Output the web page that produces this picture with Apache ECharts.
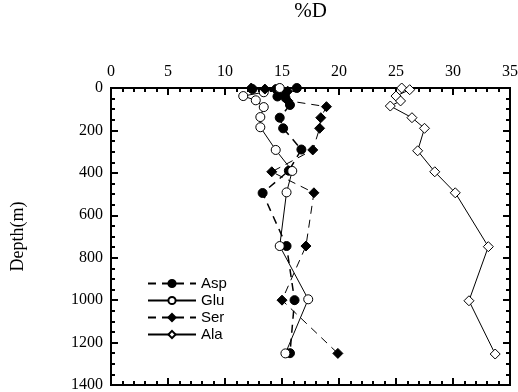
<!DOCTYPE html>
<html>
<head>
<meta charset="utf-8">
<script src="https://cdn.jsdelivr.net/npm/echarts@6/dist/echarts.min.js"></script>
<style>
  html, body { margin: 0; padding: 0; background: #fff; }
  #chart { width: 518px; height: 392px; }
</style>
</head>
<body>
<div id="chart"></div>
<script>
// [%D, depth (m)] pairs, in plotted order
const asp = [[16.3, 0], [12.4, 5], [14.5, 5], [15.0, 20], [14.6, 40], [15.3, 45], [15.7, 80],
  [14.8, 140], [15.1, 190], [16.7, 290], [15.6, 390], [13.3, 495], [15.4, 745], [16.1, 1000], [15.7, 1250]];
const glu = [[14.8, 0], [13.4, 20], [11.6, 38], [12.7, 58], [13.4, 90], [13.1, 137], [13.1, 185],
  [14.45, 292], [15.9, 391], [15.4, 492], [14.8, 745], [17.3, 996], [15.3, 1251]];
const ser = [[12.3, 0], [13.5, 5], [15.5, 15], [15.5, 60], [18.9, 88], [18.4, 140], [18.3, 190],
  [17.7, 292], [14.1, 395], [17.8, 494], [17.1, 745], [15.0, 1000], [19.9, 1251]];
const ala = [[25.5, 0], [26.2, 8], [25.0, 38], [25.4, 61], [24.5, 85], [26.4, 140], [27.5, 190],
  [26.9, 296], [28.4, 395], [30.2, 494], [33.1, 748], [31.4, 1003], [33.7, 1254]];

const seriesNames = ['Asp', 'Glu', 'Ser', 'Ala'];

const serif = 'Liberation Serif';

// fresh style objects for every axis; tick colours must be given explicitly
function axis(extra, n, labels) {
  return Object.assign({
    type: 'value',
    axisLine: { show: true, onZero: false, lineStyle: { color: '#000', width: 2 } },
    axisTick: { show: true, inside: true, length: 7, lineStyle: { color: '#000', width: 2 } },
    minorTick: { show: true, splitNumber: n, length: 4, lineStyle: { color: '#000', width: 2 } },
    axisLabel: labels
      ? { show: true, fontFamily: serif, fontSize: 16, color: '#000', formatter: (v) => String(v) }
      : { show: false },
    splitLine: { show: false }
  }, extra);
}

function mk(name, data, symbol, filled, dashed, width) {
  return {
    name: name,
    type: 'line',
    data: data,
    symbol: symbol,
    symbolSize: symbol === 'diamond' ? 10 : 9,
    itemStyle: { color: filled ? '#000' : '#fff', borderColor: '#000', borderWidth: 1 },
    lineStyle: { color: '#000', width: width, type: dashed ? [8, 6] : 'solid' }
  };
}

const chart = echarts.init(document.getElementById('chart'));

chart.setOption({
  animation: false,
  backgroundColor: '#fff',
  // grid border draws the box frame
  grid: { show: true, borderColor: '#000', borderWidth: 2, backgroundColor: 'transparent',
    left: 111, right: 8, top: 88, bottom: 7, outerBoundsMode: 'none' },
  legend: {
    data: seriesNames,
    orient: 'vertical',
    left: 142,
    top: 271,
    itemWidth: 48,
    itemHeight: 9,
    itemGap: 2,
    textStyle: { fontSize: 15, color: '#000' }
  },
  xAxis: [
    axis({
      position: 'top', min: 0, max: 35, interval: 5,
      name: '%D', nameLocation: 'middle', nameGap: 66
    }, 5, true),
    axis({ position: 'bottom', min: 0, max: 35, interval: 5 }, 5, false)
  ],
  yAxis: [
    axis({
      position: 'left', inverse: true, min: 0, max: 1400, interval: 200,
      name: 'Depth(m)', nameLocation: 'middle', nameGap: 84, nameRotate: 90
    }, 4, true),
    axis({ position: 'right', inverse: true, min: 0, max: 1400, interval: 200 }, 4, false)
  ],
  series: [
    mk('Asp', asp, 'circle', true, true, 1.5),
    mk('Glu', glu, 'circle', false, false, 1),
    mk('Ser', ser, 'diamond', true, true, 1),
    mk('Ala', ala, 'diamond', false, false, 1)
  ]
});

// axis-name fonts set after the first render
chart.setOption({
  xAxis: [{ nameTextStyle: { fontFamily: serif, fontSize: 21, color: '#000' } }],
  yAxis: [{ nameTextStyle: { fontFamily: serif, fontSize: 18, color: '#000' } }]
});
</script>
</body>
</html>
